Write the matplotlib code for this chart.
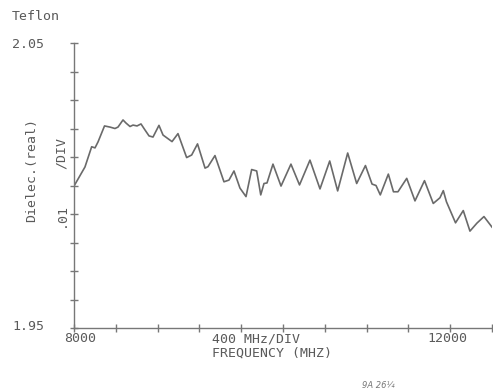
import matplotlib
matplotlib.use("Agg")
import matplotlib.pyplot as plt

# Data
freq_mhz = [8000, 8105, 8169, 8201, 8230, 8292, 8344, 8392, 8421, 8469,
            8498, 8536, 8565, 8603, 8641, 8679, 8718, 8756, 8813, 8852,
            8938, 8995, 9078, 9126, 9182, 9254, 9282, 9349, 9435, 9483,
            9531, 9588, 9646, 9700, 9748, 9787, 9818, 9847, 9904, 9981,
            10076, 10158, 10258, 10354, 10447, 10523, 10619, 10705, 10789, 10852,
            10890, 10931, 11008, 11057, 11100, 11184, 11263, 11354, 11438, 11502,
            11534, 11564, 11651, 11725, 11789, 11856, 11923, 12000]
dielec_real = [1.9998, 2.0065, 2.0136, 2.0132, 2.0153, 2.0209, 2.0205, 2.0200, 2.0205, 2.0230,
               2.0219, 2.0207, 2.0212, 2.0209, 2.0216, 2.0195, 2.0174, 2.0170, 2.0211, 2.0177,
               2.0154, 2.0182, 2.0098, 2.0107, 2.0146, 2.0061, 2.0066, 2.0105, 2.0013, 2.0019,
               2.0051, 1.9991, 1.9961, 2.0056, 2.0051, 1.9967, 2.0007, 2.0009, 2.0075, 1.9998,
               2.0075, 2.0002, 2.0089, 1.9988, 2.0086, 1.9981, 2.0114, 2.0007, 2.0070, 2.0005,
               2.0000, 1.9967, 2.0040, 1.9978, 1.9978, 2.0025, 1.9946, 2.0017, 1.9937, 1.9957,
               1.9982, 1.9943, 1.9869, 1.9912, 1.9840, 1.9868, 1.9891, 1.9854]

x_min, x_max, x_step = 8000, 12000, 400
y_min, y_max, y_step = 1.95, 2.05, 0.01

title_text = "Teflon"
y_top_label = "2.05"
y_bot_label = "1.95"
y_name = "Dielec.(real)"
y_scale_val = ".01"
y_scale_unit = "/DIV"
x_left_label = "8000"
x_mid_label = "400 MHz/DIV"
x_right_label = "12000"
x_name = "FREQUENCY (MHZ)"
note_text = "9A 26¼"

W, H = 493, 392
fig = plt.figure(figsize=(W / 100, H / 100), dpi=100)
fig.patch.set_facecolor("white")

def fx(px):
    return px / W

def fy(py):
    return 1 - py / H

ax = fig.add_axes([fx(74), fy(328), (492 - 74) / W, (328 - 43) / H])
ax.set_facecolor("white")
ax.plot(freq_mhz, dielec_real, color="#6a6a6a", lw=1.2, solid_joinstyle="round")

ax.set_xlim(x_min, x_max)
ax.set_ylim(y_min, y_max)
n_x = int(round((x_max - x_min) / x_step))
n_y = int(round((y_max - y_min) / y_step))
ax.set_xticks([x_min + i * x_step for i in range(n_x + 1)])
ax.set_yticks([y_min + i * y_step for i in range(n_y + 1)])
ax.tick_params(direction="inout", length=6, width=1, color="#777777",
               labelbottom=False, labelleft=False)
for s in ["top", "right"]:
    ax.spines[s].set_visible(False)
for s in ["left", "bottom"]:
    ax.spines[s].set_color("#777777")
    ax.spines[s].set_linewidth(1)

tc = "#5a5a5a"
fp = dict(family="DejaVu Sans Mono", fontsize=9.5, color=tc)

fig.text(fx(12), fy(17), title_text, ha="left", va="center", **fp)
fig.text(fx(12), fy(44), y_top_label, ha="left", va="center", **fp)
fig.text(fx(12), fy(327), y_bot_label, ha="left", va="center", **fp)
fig.text(fx(32), fy(170), y_name, ha="center", va="center", rotation=90, **fp)
fig.text(fx(61), fy(153), y_scale_unit, ha="center", va="center", rotation=90, **fp)
fig.text(fx(61), fy(215), y_scale_val, ha="center", va="center", rotation=90, **fp)

fig.text(fx(80), fy(339), x_left_label, ha="center", va="center", **fp)
fig.text(fx(212), fy(339), x_mid_label, ha="left", va="center", **fp)
fig.text(fx(447), fy(339), x_right_label, ha="center", va="center", **fp)
fig.text(fx(212), fy(353), x_name, ha="left", va="center", **fp)
fig.text(fx(378), fy(386), note_text, ha="center", va="center",
         family="DejaVu Sans", fontsize=6, style="italic", color="#777777")

fig.savefig("out.png", dpi=100, facecolor="white")
